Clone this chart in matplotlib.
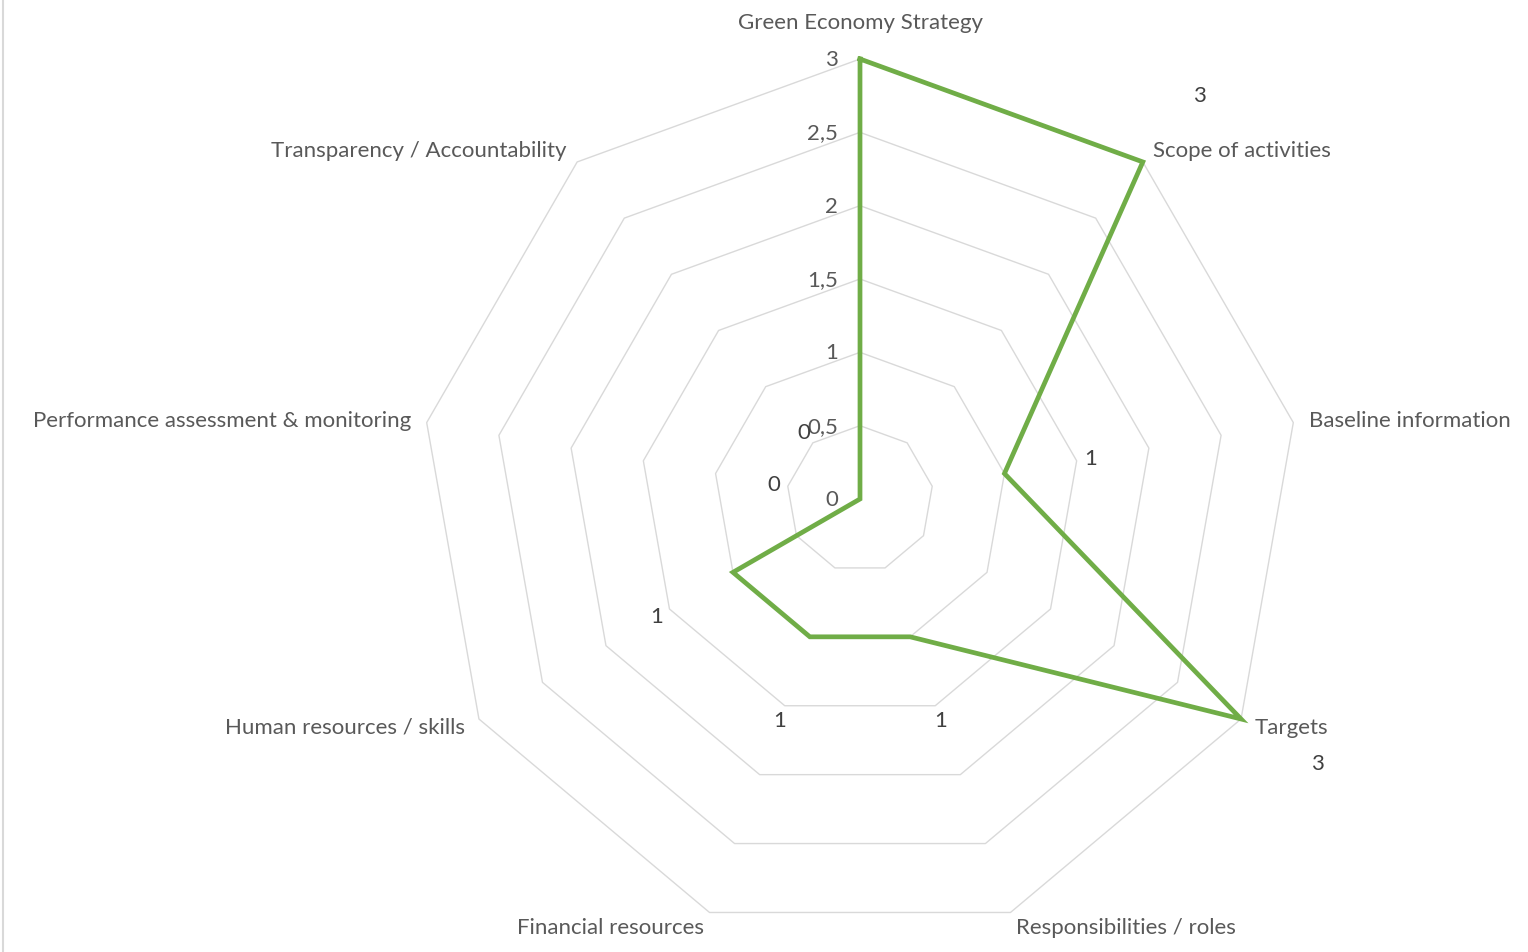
import matplotlib
matplotlib.use("Agg")
import matplotlib.pyplot as plt
from matplotlib.lines import Line2D
import numpy as np

categories = [
    "Green Economy Strategy",
    "Scope of activities",
    "Baseline information",
    "Targets",
    "Responsibilities / roles",
    "Financial resources",
    "Human resources / skills",
    "Performance assessment & monitoring",
    "Transparency / Accountability",
]
scores = [3, 3, 1, 3, 1, 1, 1, 0, 0]
rings = [0.5, 1, 1.5, 2, 2.5, 3]
tick_values = [0, 0.5, 1, 1.5, 2, 2.5, 3]
tick_labels = ["0", "0,5", "1", "1,5", "2", "2,5", "3"]

plt.rcParams["font.family"] = ["Lato", "DejaVu Sans"]

W, H = 1528, 953
fig = plt.figure(figsize=(W / 100, H / 100), dpi=100)
cx, cy, R = 860, 500, 440
ax = fig.add_axes([(cx - R) / W, (H - cy - R) / H, 2 * R / W, 2 * R / H],
                  projection="polar")
ax.set_theta_zero_location("N")
ax.set_theta_direction(-1)
ax.set_ylim(0, 3)
ax.grid(False)
ax.spines["polar"].set_visible(False)
ax.set_xticks([])
ax.set_yticks([])
ax.patch.set_alpha(0)

n = len(categories)
theta = np.arange(n) * 2 * np.pi / n
theta_closed = np.append(theta, theta[0])

# nonagon gridlines instead of circles
for r in rings:
    ax.plot(theta_closed, [r] * (n + 1), color="#D9D9D9", lw=1.0,
            zorder=1, clip_on=False)

vals = np.append(scores, scores[0])
ax.plot(theta_closed, vals, color="#70AD47", lw=3.4, zorder=3,
        solid_joinstyle="miter", clip_on=False)

px = 0.72  # points per pixel at 100 dpi
fs = 16

# radial axis labels along the top spoke
for v, lab in zip(tick_values, tick_labels):
    ax.annotate(lab, (0, v), xytext=(-22 * px, 0), textcoords="offset points",
                ha="right", va="center", fontsize=fs, color="#595959",
                annotation_clip=False)

# category labels outside the outer ring
for t, lab in zip(theta, categories):
    dx, dy = np.sin(t), np.cos(t)
    if abs(dx) < 0.1:
        off = (0, 37 * px)
        ha = "center"
    else:
        off = (16 * dx * px, 16 * dy * px)
        ha = "left" if dx > 0 else "right"
    ax.annotate(lab, (t, 3), xytext=off, textcoords="offset points",
                ha=ha, va="center", fontsize=fs, color="#595959",
                annotation_clip=False)

# value labels pushed 88 px outward from each point; ones that would land
# above the top edge are left out
for t, v in zip(theta, scores):
    dx, dy = np.sin(t), np.cos(t)
    if cy - (v * R / 3 + 88) * dy < 10:
        continue
    ax.annotate(str(v), (t, v), xytext=(88 * dx * px, 88 * dy * px),
                textcoords="offset points", ha="center", va="center",
                fontsize=fs, color="#404040", annotation_clip=False)

fig.add_artist(Line2D([2.5 / W, 2.5 / W], [0, 1], color="#D9D9D9", lw=1.5))

fig.savefig("out.png", dpi=100)
